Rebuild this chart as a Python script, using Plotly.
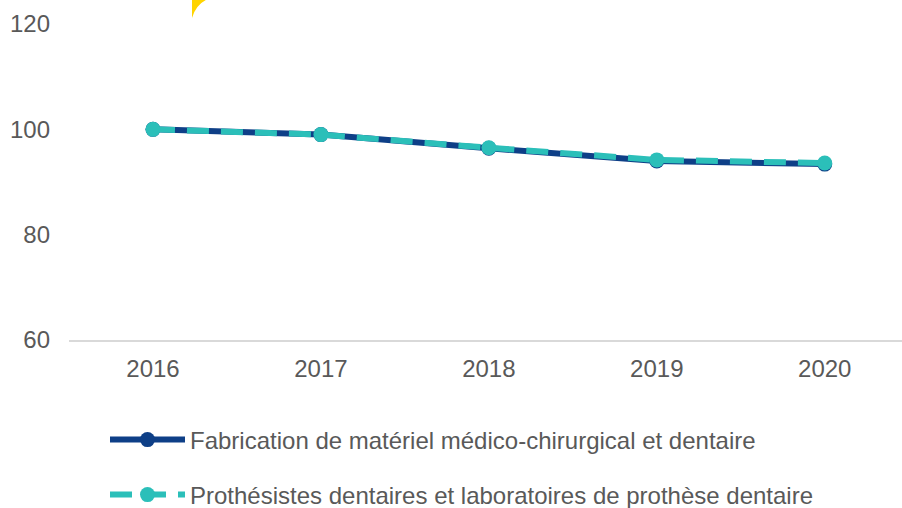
import plotly.graph_objects as go

years = ["2016", "2017", "2018", "2019", "2020"]
fabrication = [100, 99.0, 96.4, 94.0, 93.4]
protheses = [100, 99.0, 96.5, 94.2, 93.6]
name_fab = "Fabrication de matériel médico-chirurgical et dentaire"
name_pro = "Prothésistes dentaires et laboratoires de prothèse dentaire"

NAVY = "#0E3F87"
TEAL = "#2BBFB9"
GRAY = "#595959"

fig = go.Figure()
fig.add_trace(go.Scatter(
    x=years, y=fabrication, name=name_fab, mode="lines+markers",
    line=dict(color=NAVY, width=6),
    marker=dict(color=NAVY, size=15), legend="legend", showlegend=True))
fig.add_trace(go.Scatter(
    x=years, y=protheses, name=name_pro, mode="lines+markers",
    line=dict(color=TEAL, width=6, dash="22px,12px"),
    marker=dict(color=TEAL, size=15), legend="legend2", showlegend=True))

L, R, T, B = 69, 0, 24, 168
W, H = 902, 508
pw, ph = W - L - R, H - T - B

def px(x):
    return (x - L) / pw

def py(y):
    return (H - B - y) / ph

path = (f"M {px(192)},{py(-1)} L {px(192)},{py(18)} "
        f"Q {px(196)},{py(4)} {px(208)},{py(-1)} Z")
fig.add_shape(type="path", path=path, xref="paper", yref="paper",
              fillcolor="#FFD400", line=dict(width=0))

legend_common = dict(orientation="h", xanchor="left", yanchor="middle",
                     font=dict(family="Liberation Sans, Arial", size=24, color=GRAY),
                     itemwidth=75, bgcolor="rgba(0,0,0,0)", itemclick=False)

fig.update_layout(
    width=W, height=H, showlegend=True,
    margin=dict(l=L, r=R, t=T, b=B, autoexpand=False),
    plot_bgcolor="white", paper_bgcolor="white",
    font=dict(family="Liberation Sans, Arial", color=GRAY),
    xaxis=dict(type="category", range=[-0.5, 4.46], showgrid=False,
               showline=True, linecolor="#D9D9D9", linewidth=2,
               ticks="", tickfont=dict(size=24, color=GRAY),
               ticklabelstandoff=6, zeroline=False, automargin=False),
    yaxis=dict(range=[60, 120], tickvals=[60, 80, 100, 120], showgrid=False,
               showline=False, zeroline=False, ticks="",
               tickfont=dict(size=24, color=GRAY), ticklabelstandoff=18,
               automargin=False),
    legend=dict(x=px(105), y=py(440), **legend_common),
    legend2=dict(x=px(105), y=py(495), **legend_common),
)

fig.write_html("out.html", config={"displayModeBar": False},
               post_script="document.body.style.margin='0';document.body.style.overflow='hidden';")
